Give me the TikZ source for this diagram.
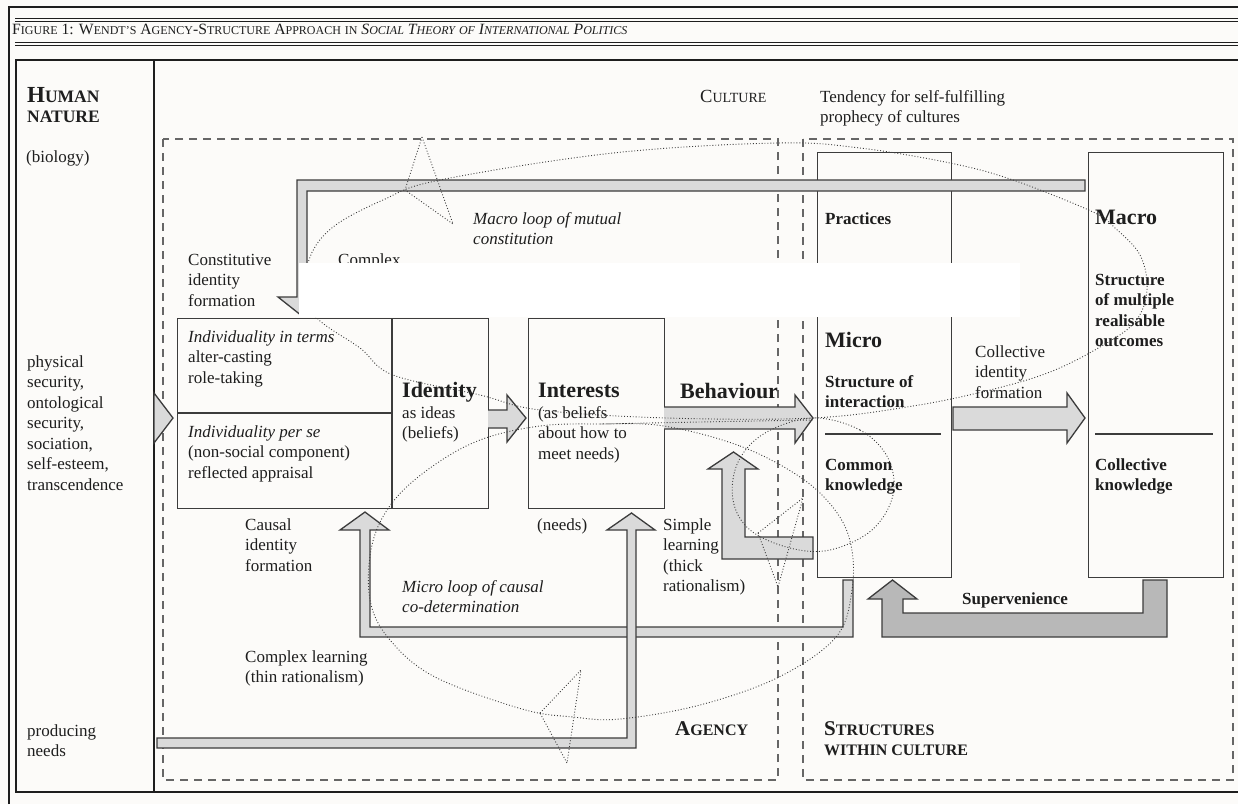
\documentclass[tikz,border=0pt]{standalone}
\usepackage{fontspec}
\setmainfont{Liberation Serif}
\definecolor{bg}{HTML}{FCFBF9}
\definecolor{ink}{HTML}{1E1E1E}
\definecolor{edge}{HTML}{3C3C3C}
\definecolor{barfill}{HTML}{DADADA}
\definecolor{darkfill}{HTML}{B8B8B8}
\newcommand\bodyf{\fontsize{17}{20.5}\selectfont}
\newcommand\bigf{\fontsize{22}{24}\selectfont\bfseries}
\newcommand\tbig[1]{{\fontsize{15.7}{17}\selectfont #1}}
\newcommand\tsm[1]{{\fontsize{12}{13}\selectfont #1}}
\newcommand\lbig[1]{{\fontsize{21}{22}\selectfont #1}}
\newcommand\lsm[1]{{\fontsize{16}{19}\selectfont #1}}
\newcommand\cbig[1]{{\fontsize{18.5}{20}\selectfont #1}}
\newcommand\csm[1]{{\fontsize{14}{16}\selectfont #1}}
\newcommand\hbig[1]{{\fontsize{23}{24}\selectfont #1}}
\newcommand\hsm[1]{{\fontsize{17.5}{20}\selectfont #1}}
\tikzset{
  frameline/.style={draw=ink, line width=1.1pt},
  dbox/.style={draw=black!60, line width=1.3pt, dash pattern=on 8pt off 6pt},
  cbox/.style={draw=edge, line width=1.3pt, inner sep=0pt, anchor=north west},
  garrow/.style={draw=edge, line width=1.3pt, fill=barfill, line join=miter},
  darrow/.style={garrow, fill=darkfill},
  loopline/.style={draw=edge, line width=0.9pt, dotted},
  txt/.style={anchor=base west, inner sep=0pt, text=ink, font=\bodyf},
  mtxt/.style={anchor=north west, inner sep=0pt, align=left, text=ink, font=\bodyf, yshift=14.35pt},
  bigtxt/.style={anchor=base west, inner sep=0pt, text=ink, font=\bigf},
}
\begin{document}
\begin{tikzpicture}[x=1pt,y=-1pt]
\useasboundingbox (0,0) rectangle (1238,804);
\fill[bg] (0,0) rectangle (1238,804);

% frame
\draw[draw=ink, line width=2.6pt] (9,804) -- (9,7) -- (1238,7);
\draw[frameline, line width=0.8pt] (15,18) -- (1238,18);
\draw[frameline, line width=0.8pt] (15,21) -- (1238,21);
\draw[frameline, line width=0.8pt] (15,42) -- (1238,42);
\draw[frameline, line width=0.8pt] (15,45) -- (1238,45);
\draw[frameline] (1238,60) -- (16,60) -- (16,792) -- (1238,792);
\draw[frameline, line width=1.6pt] (16,792) -- (1238,792);
\draw[frameline] (154,60) -- (154,792);

\node[txt, font=\fontsize{15.7}{17}\selectfont] (title) at (12,34)
  {\tbig{F}\tsm{IGURE} \tbig{1:} \tbig{W}\tsm{ENDT’S} \tbig{A}\tsm{GENCY}\tbig{-S}\tsm{TRUCTURE} \tbig{A}\tsm{PPROACH} \tsm{IN} {\itshape\tbig{S}\tsm{OCIAL} \tbig{T}\tsm{HEORY} \tsm{OF} \tbig{I}\tsm{NTERNATIONAL} \tbig{P}\tsm{OLITICS}}};

% left column
\node[txt, font=\bfseries] (human) at (27,102) {\hbig{H}\hsm{UMAN}};
\node[txt, font=\bfseries] (nature) at (27,122) {\hsm{NATURE}};
\node[txt] (biology) at (26,162) {(biology)};
\node[mtxt] (needslist) at (27,367) {\strut physical\\security,\\ontological\\security,\\sociation,\\self-esteem,\\transcendence};
\node[mtxt] (producing) at (27,736) {\strut producing\\needs};

% dashed regions
\draw[dbox] (163,139) rectangle (778,780);
\draw[dbox] (803,139) rectangle (1233,780);

% culture labels
\node[txt] (culture) at (700,102) {\cbig{C}\csm{ULTURE}};
\node[mtxt] (tendency) at (820,102) {\strut Tendency for self-fulfilling\\prophecy of cultures};

% boxes
\node[cbox, minimum width=134pt, minimum height=425pt] (microbox) at (817,152) {};
\node[cbox, minimum width=135pt, minimum height=425pt] (macrobox) at (1088,152) {};
\draw[draw=edge, line width=1.2pt] (825,434) -- (941,434);
\draw[draw=edge, line width=1.2pt] (1095,434) -- (1213,434);
\node[cbox, minimum width=311pt, minimum height=190pt] (identitybox) at (177,318) {};
\draw[draw=edge, line width=1.3pt] (392,318) -- (392,508);
\draw[draw=edge, line width=1.3pt] (177,413) -- (392,413);
\node[cbox, minimum width=136pt, minimum height=190pt] (interestsbox) at (528,318) {};

% big L arrow (constitutive identity formation)
\draw[garrow] (1085,180) -- (297,180) -- (297,297) -- (278,297) -- (302,316) -- (326,297) -- (307,297) -- (307,191) -- (1085,191) -- cycle;

% left arrowhead from human nature
\draw[garrow] (154,393) -- (173,418) -- (154,443) -- cycle;

% identity -> interests
\draw[garrow] (488,410) -- (507,410) -- (507,395) -- (526,418) -- (507,442) -- (507,428) -- (488,428);
% behaviour
\draw[garrow] (664,407) -- (795,407) -- (795,395) -- (813,418) -- (795,443) -- (795,429) -- (664,429);
% collective identity formation
\draw[garrow] (953,407) -- (1067,407) -- (1067,393) -- (1085,418) -- (1067,443) -- (1067,430) -- (953,430) -- cycle;
% simple learning
\draw[garrow] (813,537) -- (745,537) -- (745,469) -- (758,469) -- (733.5,452) -- (708,469) -- (722,469) -- (722,559) -- (813,559) -- cycle;
% causal identity formation loop
\draw[garrow] (853,580) -- (853,637) -- (360,637) -- (360,530) -- (340,530) -- (365,512) -- (389,530) -- (370,530) -- (370,627) -- (843,627) -- (843,580) -- cycle;
% producing needs
\draw[garrow] (157,738) -- (627,738) -- (627,530) -- (607,530) -- (631.5,513) -- (655,530) -- (636,530) -- (636,748) -- (157,748) -- cycle;
% supervenience
\draw[darrow] (1143,580) -- (1167,580) -- (1167,637) -- (882,637) -- (882,599) -- (868,599) -- (892.5,580) -- (917,599) -- (903,599) -- (903,613) -- (1143,613) -- cycle;

% texts in agency
\node[mtxt, font=\bodyf\itshape] (macroloop) at (473,224) {\strut Macro loop of mutual\\constitution};
\node[mtxt] (constitutive) at (188,265) {\strut Constitutive\\identity\\formation};
\node[txt] (complex) at (338,265) {Complex};
\node[mtxt] (interms) at (188,342) {\strut\textit{Individuality in terms}\\alter-casting\\role-taking};
\node[mtxt] (perse) at (188,437) {\strut\textit{Individuality per se}\\(non-social component)\\reflected appraisal};
\node[bigtxt] (identity) at (402,397) {Identity};
\node[mtxt] (asideas) at (402,418) {\strut as ideas\\(beliefs)};
\node[bigtxt] (interests) at (538,397) {Interests};
\node[mtxt] (asbeliefs) at (538,418) {\strut (as beliefs\\about how to\\meet needs)};
\node[bigtxt] (behaviour) at (680,398) {Behaviour};
\node[mtxt] (causal) at (245,530) {\strut Causal\\identity\\formation};
\node[txt] (needs) at (537,530) {(needs)};
\node[mtxt] (simple) at (663,530) {\strut Simple\\learning\\(thick\\rationalism)};
\node[mtxt, font=\bodyf\itshape] (microloop) at (402,592) {\strut Micro loop of causal\\co-determination};
\node[mtxt] (complexlearning) at (245,662) {\strut Complex learning\\(thin rationalism)};
\node[txt, font=\bfseries] (agency) at (675,735) {\lbig{A}\lsm{GENCY}};
\node[mtxt, font=\bodyf\bfseries] (structures) at (824,735) {\strut\lbig{S}\lsm{TRUCTURES}\\\lsm{WITHIN CULTURE}};

% texts in structures
\node[txt, font=\bodyf\bfseries] (practices) at (825,224) {Practices};
\node[bigtxt] (micro) at (825,347) {Micro};
\node[mtxt, font=\bodyf\bfseries] (structint) at (825,387) {\strut Structure of\\interaction};
\node[mtxt, font=\bodyf\bfseries] (common) at (825,470) {\strut Common\\knowledge};
\node[bigtxt] (macro) at (1095,224) {Macro};
\node[mtxt, font=\bodyf\bfseries] (multiple) at (1095,285) {\strut Structure\\of multiple\\realisable\\outcomes};
\node[mtxt, font=\bodyf\bfseries] (collknow) at (1095,470) {\strut Collective\\knowledge};
\node[mtxt] (collid) at (975,357) {\strut Collective\\identity\\formation};
\node[txt, font=\bodyf\bfseries] (superv) at (962,604) {Supervenience};

% dotted loops
\draw[loopline] plot[smooth cycle, tension=0.6] coordinates {
 (813,418) (913,406) (990,390) (1050,372) (1100,347) (1135,322) (1147,290) (1140,255) (1115,228)
 (1093,212) (1013,180) (950,163) (860,148) (777,143) (613,153) (440,180) (383,200) (333,227)
 (310,257) (308,290) (317,318) (360,348) (393,375) (480,395) (540,410) (667,418)};
\draw[loopline] (422,137) -- (405,190) -- (453,224) -- cycle;
\draw[loopline] plot[smooth cycle, tension=0.6] coordinates {
 (664,426) (740,446) (800,477) (835,510) (851,545) (852,590) (836,637) (779,677) (700,705)
 (620,719) (573,717) (522,709) (435,677) (390,640) (370,600) (372,545) (392,503) (430,468)
 (480,440) (540,426) (600,424)};
\draw[loopline] (540,713) -- (581,670) -- (567,763) -- cycle;
\draw[loopline] plot[smooth, tension=0.6] coordinates {(600,424) (700,422) (813,420)};
\draw[loopline] plot[smooth cycle, tension=0.6] coordinates {
 (813,418) (860,430) (888,458) (893,495) (872,530) (830,550) (790,548) (750,530) (733,500)
 (738,462) (765,433)};
\draw[loopline] (758,533) -- (803,498) -- (778,587) -- cycle;

% white patch
\fill[white] (299,263) rectangle (1020,317);
\end{tikzpicture}
\end{document}
